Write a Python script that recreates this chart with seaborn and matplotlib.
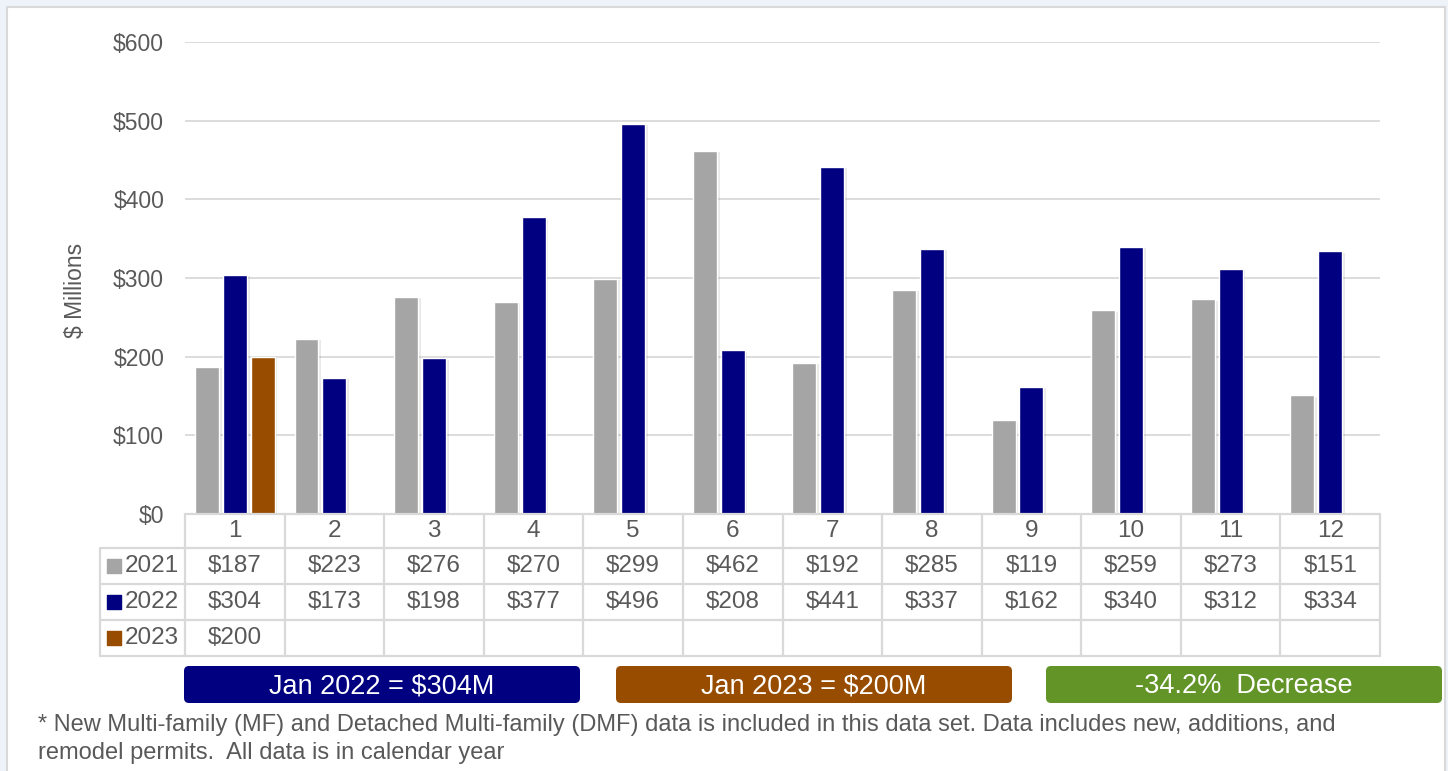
import numpy as np
import pandas as pd
import matplotlib.pyplot as plt
import seaborn as sns
from matplotlib.patches import Rectangle, FancyBboxPatch
import matplotlib.patheffects as pe

months = [str(m) for m in range(1, 13)]
years = ["2021", "2022", "2023"]
values_2021 = [187, 223, 276, 270, 299, 462, 192, 285, 119, 259, 273, 151]
values_2022 = [304, 173, 198, 377, 496, 208, 441, 337, 162, 340, 312, 334]
values_2023 = [200, None, None, None, None, None, None, None, None, None, None, None]
colors = ["#a5a5a5", "#000080", "#974c00"]
green = "#629428"
footnote = ("* New Multi-family (MF) and Detached Multi-family (DMF) data is included in this data set. "
            "Data includes new, additions, and\nremodel permits.  All data is in calendar year")

rows = []
for yr, vals in zip(years, [values_2021, values_2022, values_2023]):
    for m, v in zip(months, vals):
        rows.append({"month": m, "year": yr, "value": v})
df = pd.DataFrame(rows)
df_bars = df.dropna()

sns.set_style("white")
plt.rcParams['font.family'] = ['Liberation Sans', 'DejaVu Sans']
txt = "#595959"
line = "#d9d9d9"

W, H = 1448, 771
fig = plt.figure(figsize=(W / 100, H / 100), dpi=100, facecolor="#eef2f9")

# background panel and annotation layer, in pixel coordinates
bg = fig.add_axes([0, 0, 1, 1])
bg.set_xlim(0, W)
bg.set_ylim(H, 0)
bg.axis("off")
bg.add_patch(Rectangle((7, 7), 1438, 770, facecolor="white", edgecolor="#d9d9d9", lw=1.5))

# main chart
def fx(px): return px / W
def fy(py): return 1 - py / H

ax = fig.add_axes([fx(185), fy(514), fx(1380) - fx(185), fy(42) - fy(514)])
ax.set_facecolor("none")
sns.barplot(data=df_bars, x="month", y="value", hue="year", order=months, hue_order=years,
            palette=colors, width=0.84, gap=0.14, errorbar=None, legend=False, ax=ax,
            saturation=1)
for p in ax.patches:
    p.set_path_effects([pe.SimplePatchShadow(offset=(2, -1), alpha=0.18, shadow_rgbFace="#888888"), pe.Normal()])
ax.set_xlim(-0.5, 11.5)
ax.set_ylim(0, 600)
ax.set_yticks(range(0, 601, 100))
ax.set_yticklabels([f"${v}" for v in range(0, 601, 100)], color=txt, fontsize=16.5)
ax.tick_params(axis="y", length=0, pad=15)
ax.set_xticks([])
ax.set_xlabel("")
ax.set_ylabel("")
ax.grid(axis="y", color=line, lw=1.3)
ax.set_axisbelow(True)
for s in ax.spines.values():
    s.set_visible(False)
fig.text(fx(76), fy(290), "$ Millions", rotation=90, ha="center", va="center", fontsize=16.5, color=txt)

# data table under the chart, x in category units, y in pixels from the top of the table
tb = fig.add_axes([fx(100), fy(657), fx(1380) - fx(100), fy(514) - fy(657)])
left = -0.5 - 85 / (1195 / 12)
tb.set_xlim(left, 11.5)
tb.set_ylim(143, 0)
tb.axis("off")
row_edges = [0, 34, 70, 106, 142]
lw = 1.6
tb.plot([-0.5, 11.5], [0, 0], color=line, lw=lw, clip_on=False)
for k in range(13):
    tb.plot([k - 0.5, k - 0.5], [0, 142], color=line, lw=lw, clip_on=False)
tb.plot([left, left], [34, 142], color=line, lw=lw, clip_on=False)
for e in row_edges[1:]:
    tb.plot([left, 11.5], [e, e], color=line, lw=lw, clip_on=False)
for i, m in enumerate(months):
    tb.text(i, 17, m, ha="center", va="center", fontsize=17.5, color=txt)
for r, (yr, col) in enumerate(zip(years, colors)):
    yc = (row_edges[r + 1] + row_edges[r + 2]) / 2
    tb.scatter([left + 0.14], [yc], marker="s", s=100, color=col, clip_on=False)
    tb.text(left + 0.25, yc, yr, ha="left", va="center", fontsize=17.5, color=txt)
    vals = df[df["year"] == yr]["value"].tolist()
    for i, v in enumerate(vals):
        if pd.notna(v):
            tb.text(i, yc, f"${int(v)}", ha="center", va="center", fontsize=17.5, color=txt)

# summary boxes
jan22 = values_2022[0]
jan23 = values_2023[0]
pct = (jan23 - jan22) / jan22 * 100
boxes = [(184, f"Jan 2022 = ${jan22}M", colors[1]),
         (616, f"Jan 2023 = ${jan23}M", colors[2]),
         (1046, f"{pct:.1f}%  Decrease", green)]
for x0, label, col in boxes:
    bg.add_patch(FancyBboxPatch((x0 + 4, 670), 388, 29, boxstyle="round,pad=4,rounding_size=5",
                                facecolor=col, edgecolor="none"))
    bg.text(x0 + 198, 686, label, ha="center", va="center", fontsize=19.5, color="white")

bg.text(38, 739, footnote, ha="left", va="center", fontsize=17, color=txt, linespacing=1.35)

fig.savefig("out.png", dpi=100, facecolor=fig.get_facecolor())
